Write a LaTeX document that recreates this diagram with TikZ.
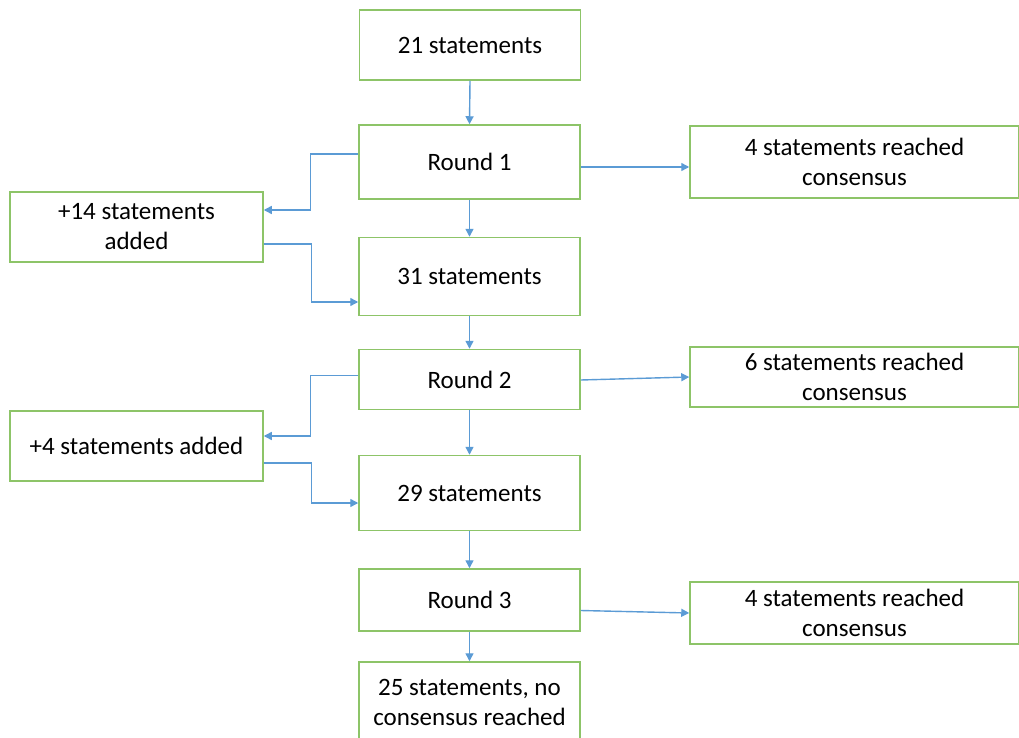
\documentclass[tikz,border=0pt]{standalone}
\usepackage{fontspec}
\setmainfont{Carlito}
\usetikzlibrary{arrows.meta}
\definecolor{boxgreen}{RGB}{141,196,104}
\definecolor{arrowblue}{RGB}{91,155,213}
\tikzset{
  box/.style={draw=boxgreen, line width=1.5pt, fill=white, align=center,
    font=\fontsize{25}{30}\selectfont, inner sep=0pt},
  midbox/.style={box, minimum width=221pt},
  sidebox/.style={box, minimum width=329pt},
  leftbox/.style={box, minimum width=253pt, minimum height=70pt},
  arr/.style={draw=arrowblue, line width=1.4pt, -{Triangle[length=8pt,width=8pt]}}
}
\begin{document}
\begin{tikzpicture}[x=1pt,y=-1pt]
\useasboundingbox (0,0) rectangle (1019,738);
\clip (0,0) rectangle (1019,738);
% middle column
\node[midbox, minimum height=70pt] (s21) at (470,45) {21 statements};
\node[midbox, minimum height=74pt] (r1) at (469.5,162) {Round 1};
\node[midbox, minimum height=78pt] (s31) at (469.5,276.5) {31 statements};
\node[midbox, minimum height=60pt] (r2) at (469.5,379.5) {Round 2};
\node[midbox, minimum height=75pt] (s29) at (469.5,493) {29 statements};
\node[midbox, minimum height=62pt] (r3) at (469.5,600) {Round 3};
\node[midbox, minimum height=80pt] (s25) at (469.5,702) {25 statements, no\\consensus reached};
% right column
\node[sidebox, minimum height=72pt] (c1) at (854.5,162) {4 statements reached\\consensus};
\node[sidebox, minimum height=60pt] (c2) at (854.5,377) {6 statements reached\\consensus};
\node[sidebox, minimum height=62pt] (c3) at (854.5,613) {4 statements reached\\consensus};
% left column
\node[leftbox] (a14) at (136.5,227) {+14 statements\\added};
\node[leftbox] (a4) at (136.5,446) {+4 statements added};
% vertical flow
\draw[arr] (s21.south) -- (r1.north);
\draw[arr] (r1.south) -- (s31.north);
\draw[arr] (s31.south) -- (r2.north);
\draw[arr] (r2.south) -- (s29.north);
\draw[arr] (s29.south) -- (r3.north);
\draw[arr] (r3.south) -- (s25.north);
% to consensus boxes
\draw[arr] ([yshift=-5pt]r1.east) -- ([yshift=-5pt]c1.west);
\draw[arr] ([yshift=-0.5pt]r2.east) -- (c2.west);
\draw[arr] ([yshift=-10.5pt]r3.east) -- (c3.west);
% side loops
\draw[arr] ([yshift=8pt]r1.west) -- ++(-48,0) |- ([yshift=17pt]a14.east);
\draw[arr] ([yshift=-17pt]a14.east) -- ++(48,0) |- ([yshift=-25.5pt]s31.west);
\draw[arr] ([yshift=4pt]r2.west) -- ++(-48,0) |- ([yshift=10pt]a4.east);
\draw[arr] ([yshift=-17pt]a4.east) -- ++(48,0) |- ([yshift=-10pt]s29.west);
\end{tikzpicture}
\end{document}
